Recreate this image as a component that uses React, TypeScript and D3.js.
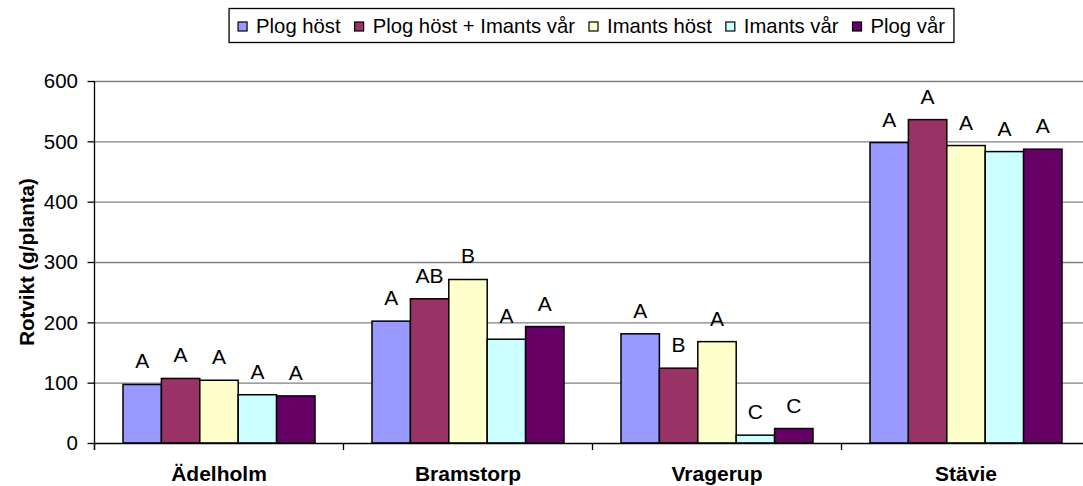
import React, { useEffect, useRef } from "react";
import * as d3 from "d3";

const categories = ["Ädelholm", "Bramstorp", "Vragerup", "Stävie"];
const seriesNames = ["Plog höst", "Plog höst + Imants vår", "Imants höst", "Imants vår", "Plog vår"];
const seriesColors = ["#9999FF", "#993366", "#FFFFCC", "#CCFFFF", "#660066"];
const plogHost = [97, 202, 181, 498];
const plogHostImantsVar = [107, 239, 124, 536];
const imantsHost = [104, 271, 168, 493];
const imantsVar = [80, 172, 13, 483];
const plogVar = [78, 193, 24, 487];
const letters = [
  ["A", "A", "A", "A"],
  ["A", "AB", "B", "A"],
  ["A", "B", "A", "A"],
  ["A", "A", "C", "A"],
  ["A", "A", "C", "A"],
];
const yTicks = [0, 100, 200, 300, 400, 500, 600];
const yTitle = "Rotvikt (g/planta)";

const W = 1083;
const H = 486;
const FONT = "'Liberation Sans', Arial, sans-serif";

export default function App() {
  const ref = useRef<SVGSVGElement | null>(null);

  useEffect(() => {
    const svg = d3.select(ref.current);
    svg.selectAll("*").remove();
    const values = [plogHost, plogHostImantsVar, imantsHost, imantsVar, plogVar];

    const left = 94.5;
    const catW = 249;
    const y = d3.scaleLinear().domain([0, 600]).range([443, 81]);
    const x0 = d3.scaleBand<string>().domain(categories).range([left, left + catW * categories.length]).paddingInner(0).paddingOuter(0);
    const x1 = d3.scaleBand<string>().domain(seriesNames).range([0, 192]).padding(0);
    const groupOff = (x0.bandwidth() - 192) / 2;

    svg.append("rect").attr("width", W).attr("height", H).attr("fill", "#fff");

    // gridlines
    svg.append("g").selectAll("line").data(yTicks.filter((t) => t > 0)).join("line")
      .attr("x1", left).attr("x2", W).attr("y1", (d) => y(d) + 0.5).attr("y2", (d) => y(d) + 0.5)
      .attr("stroke", "#808080").attr("stroke-width", 1.3);

    // bars
    const g = svg.append("g");
    values.forEach((vals, si) => {
      g.append("g").selectAll("rect").data(vals).join("rect")
        .attr("x", (_d, i) => (x0(categories[i]) as number) + groupOff + (x1(seriesNames[si]) as number))
        .attr("y", (d) => y(d))
        .attr("width", x1.bandwidth())
        .attr("height", (d) => y(0) - y(d))
        .attr("fill", seriesColors[si])
        .attr("stroke", "#000").attr("stroke-width", 1.5);
      g.append("g").selectAll("text").data(vals).join("text")
        .attr("x", (_d, i) => (x0(categories[i]) as number) + groupOff + (x1(seriesNames[si]) as number) + x1.bandwidth() / 2)
        .attr("y", (d) => y(d) - 16)
        .attr("text-anchor", "middle")
        .attr("font-family", FONT).attr("font-size", 21).attr("fill", "#000")
        .text((_d, i) => letters[si][i]);
    });

    // axes
    svg.append("line").attr("x1", left).attr("x2", left).attr("y1", y(600)).attr("y2", 450).attr("stroke", "#000").attr("stroke-width", 1.3);
    svg.append("line").attr("x1", left).attr("x2", W).attr("y1", y(0) + 0.5).attr("y2", y(0) + 0.5).attr("stroke", "#000").attr("stroke-width", 1.3);
    svg.append("g").selectAll("line").data(yTicks).join("line")
      .attr("x1", left - 7).attr("x2", left).attr("y1", (d) => y(d) + 0.5).attr("y2", (d) => y(d) + 0.5)
      .attr("stroke", "#000").attr("stroke-width", 1.3);
    svg.append("g").selectAll("line").data(d3.range(categories.length + 1)).join("line")
      .attr("x1", (i) => left + catW * i).attr("x2", (i) => left + catW * i).attr("y1", y(0)).attr("y2", 450)
      .attr("stroke", "#000").attr("stroke-width", 1.3);
    svg.append("g").selectAll("text").data(yTicks).join("text")
      .attr("x", 78).attr("y", (d) => y(d)).attr("dy", "0.36em").attr("text-anchor", "end")
      .attr("font-family", FONT).attr("font-size", 20.5).attr("fill", "#000").text((d) => d);
    svg.append("g").selectAll("text").data(categories).join("text")
      .attr("x", (d) => (x0(d) as number) + x0.bandwidth() / 2).attr("y", 481)
      .attr("text-anchor", "middle").attr("font-family", FONT).attr("font-size", 21).attr("font-weight", "bold")
      .attr("fill", "#000").text((d) => d);
    svg.append("text").attr("transform", "translate(34,262) rotate(-90)").attr("text-anchor", "middle")
      .attr("font-family", FONT).attr("font-size", 20.5).attr("font-weight", "bold").attr("fill", "#000").text(yTitle);

    // legend
    const lg = svg.append("g");
    const box = lg.append("rect").attr("fill", "#fff").attr("stroke", "#000").attr("stroke-width", 1.3);
    const items = seriesNames.map((name, i) => {
      const it = lg.append("g");
      it.append("rect").attr("width", 9).attr("height", 9).attr("y", 22).attr("fill", seriesColors[i]).attr("stroke", "#000").attr("stroke-width", 1.2);
      const t = it.append("text").attr("x", 18).attr("y", 33).attr("font-family", FONT).attr("font-size", 20.3).attr("fill", "#000").text(name);
      const tw = (t.node() as SVGTextElement).getComputedTextLength();
      return { it, w: 18 + tw };
    });
    const gap = 14;
    const total = d3.sum(items, (d) => d.w) + gap * (items.length - 1);
    const cx = 591.5;
    let xx = cx - total / 2;
    items.forEach((d) => {
      d.it.attr("transform", `translate(${xx},0)`);
      xx += d.w + gap;
    });
    box.attr("x", cx - total / 2 - 9).attr("y", 8.5).attr("width", total + 18).attr("height", 34);
  }, []);

  return (
    <svg ref={ref} width={W} height={H} style={{ position: "absolute", left: 0, top: 0, display: "block" }} />
  );
}
